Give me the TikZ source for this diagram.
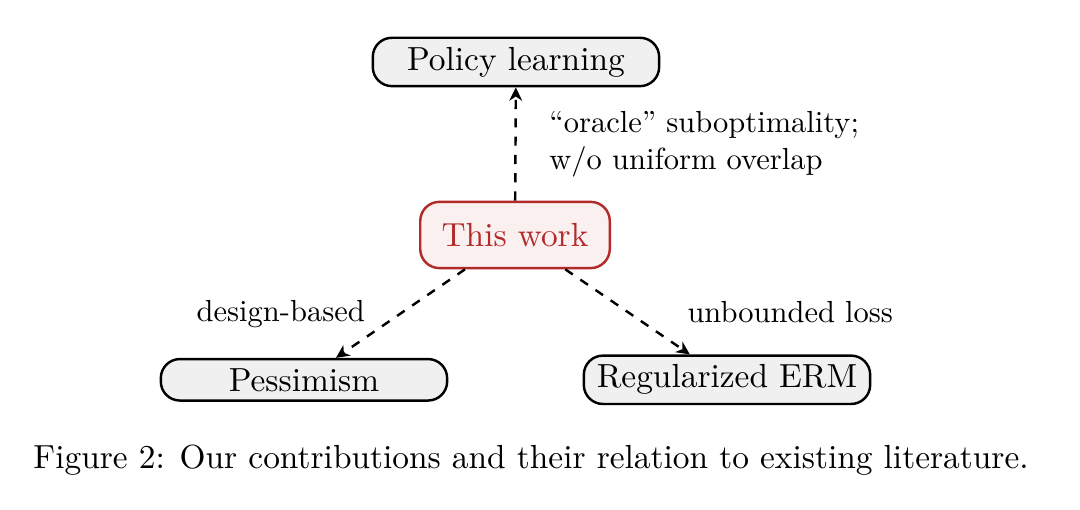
\documentclass[tikz,border=0pt]{standalone}
\usepackage{amsmath,amssymb}
\usetikzlibrary{arrows.meta,calc}
\definecolor{WorkRed}{HTML}{B22A2A}
\definecolor{WorkFill}{HTML}{FAF0F0}
\definecolor{LitGray}{HTML}{F0F0F0}

\begin{document}
\begin{tikzpicture}[
    >={Stealth[length=4.4pt, width=4.2pt, inset=1.4pt]},
    litbox/.style={draw, thick, rounded corners=2.2mm, fill=LitGray,
      minimum width=3.3cm, inner sep=3pt, font=\fontsize{10.95}{13.6}\selectfont},
    workbox/.style={draw=WorkRed, thick, rounded corners=2.2mm, fill=WorkFill,
      text=WorkRed, inner sep=7pt, font=\fontsize{10.95}{13.6}\selectfont},
    rel/.style={->, thick, dashed}]
  \useasboundingbox (0,0) rectangle (12.446,5.877);

  % The three strands of literature around the contribution.
  \node[workbox] (work) at (5.935,3.169) {This work};
  \node[litbox] (policy) at (5.946,5.163) {Policy learning};
  \node[litbox] (pess) at (3.503,1.50) {Pessimism};
  \node[litbox] (erm) at (8.378,1.50) {Regularized ERM};

  \draw[rel] (work) -- (policy)
    node[midway, right=2.6mm, align=left]
      {``oracle'' suboptimality;\\w/o uniform overlap};
  \draw[rel] (work) -- (pess)
    node[midway, left=2.8mm] {design-based};
  \draw[rel] (work) -- (erm)
    node[midway, right=5.6mm] {unbounded loss};

  \node[font=\fontsize{10.95}{13.6}\selectfont] (caption) at (6.12,0.576)
    {Figure 2: Our contributions and their relation to existing literature.};
\end{tikzpicture}
\end{document}
